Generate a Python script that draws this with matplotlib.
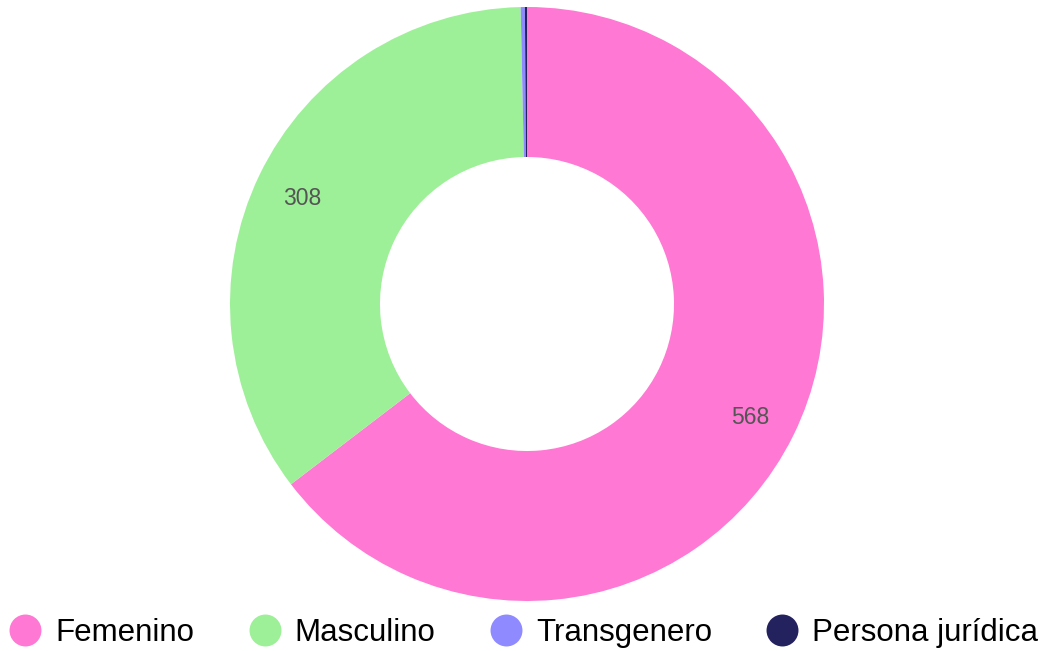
import matplotlib
matplotlib.use("Agg")
import matplotlib.pyplot as plt
from matplotlib.lines import Line2D
import numpy as np

categories = ["Femenino", "Masculino", "Transgenero", "Persona jurídica"]
values = [568, 308, 2, 1]
colors = ["#FF78D3", "#9DF098", "#8F8AFF", "#23215E"]

plt.rcParams['font.family'] = ['Liberation Sans', 'DejaVu Sans']

W, H = 1043, 651
fig = plt.figure(figsize=(W / 100, H / 100), dpi=100)
cx, cy, R = 527, 304, 297
half = 300
ax = fig.add_axes([(cx - half) / W, (H - cy - half) / H, 2 * half / W, 2 * half / H])
lim = half / R

wedges, texts = ax.pie(values, colors=colors, startangle=90, counterclock=False,
                       radius=1.0, wedgeprops=dict(width=0.505, edgecolor='none'))
total = sum(values)
ang = 90.0
for v, w in zip(values, wedges):
    span = 360.0 * v / total
    mid = np.deg2rad(ang - span / 2)
    ang -= span
    if v / total > 0.05:
        ax.text(0.84 * np.cos(mid), 0.84 * np.sin(mid), str(v), ha='center',
                va='center_baseline', fontsize=16.5, color='#555555')
ax.set_xlim(-lim, lim)
ax.set_ylim(-lim, lim)
ax.set_aspect('equal')
ax.axis('off')

handles = [Line2D([], [], marker='o', linestyle='none', markersize=23,
                  markerfacecolor=c, markeredgecolor='none') for c in colors]
fig.legend(handles, categories, loc='center', bbox_to_anchor=(524 / W, 1 - 633 / H),
           ncol=4, frameon=False, fontsize=22.5, handletextpad=0.46, columnspacing=1.75,
           handlelength=1.0, borderpad=0, borderaxespad=0)

fig.savefig("out.png", dpi=100)
